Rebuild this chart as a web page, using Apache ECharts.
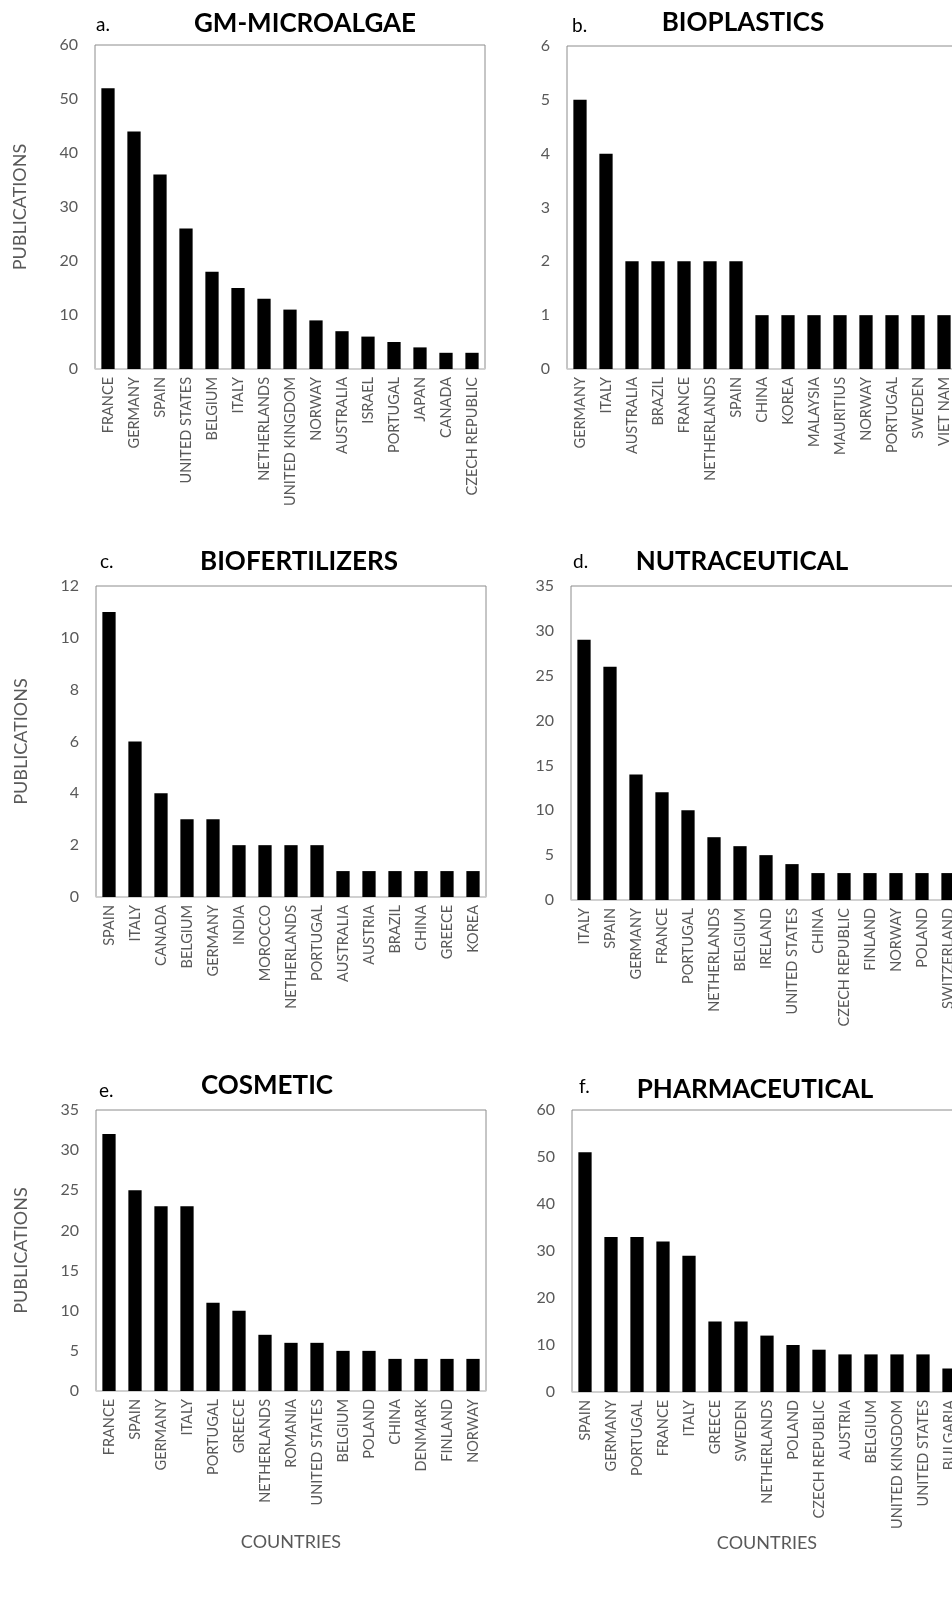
<!DOCTYPE html>
<html>
<head>
<meta charset="utf-8">
<script src="https://cdn.jsdelivr.net/npm/echarts@6/dist/echarts.min.js"></script>
<style>
html,body{margin:0;padding:0;background:#fff;overflow:hidden;}
#c{width:990px;height:1614px;}
</style>
</head>
<body>
<div id="c"></div>
<script>
// ---- Data ----
const catsA = ['FRANCE','GERMANY','SPAIN','UNITED STATES','BELGIUM','ITALY','NETHERLANDS','UNITED KINGDOM','NORWAY','AUSTRALIA','ISRAEL','PORTUGAL','JAPAN','CANADA','CZECH REPUBLIC'];
const valsA = [52,44,36,26,18,15,13,11,9,7,6,5,4,3,3];

const catsB = ['GERMANY','ITALY','AUSTRALIA','BRAZIL','FRANCE','NETHERLANDS','SPAIN','CHINA','KOREA','MALAYSIA','MAURITIUS','NORWAY','PORTUGAL','SWEDEN','VIET NAM'];
const valsB = [5,4,2,2,2,2,2,1,1,1,1,1,1,1,1];

const catsC = ['SPAIN','ITALY','CANADA','BELGIUM','GERMANY','INDIA','MOROCCO','NETHERLANDS','PORTUGAL','AUSTRALIA','AUSTRIA','BRAZIL','CHINA','GREECE','KOREA'];
const valsC = [11,6,4,3,3,2,2,2,2,1,1,1,1,1,1];

const catsD = ['ITALY','SPAIN','GERMANY','FRANCE','PORTUGAL','NETHERLANDS','BELGIUM','IRELAND','UNITED STATES','CHINA','CZECH REPUBLIC','FINLAND','NORWAY','POLAND','SWITZERLAND'];
const valsD = [29,26,14,12,10,7,6,5,4,3,3,3,3,3,3];

const catsE = ['FRANCE','SPAIN','GERMANY','ITALY','PORTUGAL','GREECE','NETHERLANDS','ROMANIA','UNITED STATES','BELGIUM','POLAND','CHINA','DENMARK','FINLAND','NORWAY'];
const valsE = [32,25,23,23,11,10,7,6,6,5,5,4,4,4,4];

const catsF = ['SPAIN','GERMANY','PORTUGAL','FRANCE','ITALY','GREECE','SWEDEN','NETHERLANDS','POLAND','CZECH REPUBLIC','AUSTRIA','BELGIUM','UNITED KINGDOM','UNITED STATES','BULGARIA'];
const valsF = [51,33,33,32,29,15,15,12,10,9,8,8,8,8,5];

const letters = ['a.','b.','c.','d.','e.','f.'];
const titles = ['GM-MICROALGAE','BIOPLASTICS','BIOFERTILIZERS','NUTRACEUTICAL','COSMETIC','PHARMACEUTICAL'];
const yMax = [60,6,12,35,35,60];
const yStep = [10,1,2,5,5,10];
const yName = 'PUBLICATIONS';
const xName = 'COUNTRIES';

// ---- Layout ----
const FONT = 'Lato, "Open Sans", sans-serif';
const grids = [
  {left:95, top:45, width:390, height:324},
  {left:567, top:46, width:390, height:323},
  {left:96, top:586, width:390, height:311},
  {left:571, top:586, width:390, height:314},
  {left:96, top:1110, width:390, height:281},
  {left:572, top:1110, width:390, height:282}
];
const cats = [catsA,catsB,catsC,catsD,catsE,catsF];
const vals = [valsA,valsB,valsC,valsD,valsE,valsF];

const letterPos = [[96,25],[572,26],[100,562],[573,562],[99,1091],[579,1087]];
const titlePos = [[305,24],[743,23],[299,562],[742,562],[267,1086],[755,1090]];

const option = {
  backgroundColor:'#fff',
  animation:false,
  grid: grids.map(g => Object.assign({show:true, borderColor:'#8c8c8c', borderWidth:1, backgroundColor:'transparent', containLabel:false}, g)),
  xAxis: cats.map((c,i)=>({
    type:'category', gridIndex:i, data:c,
    axisLine:{show:true, lineStyle:{color:'#d4d4d4', width:1.5}},
    axisTick:{show:false},
    axisLabel:{interval:0, rotate:90, margin:8, color:'#595959', fontSize:14.5, fontFamily:FONT},
    name: i>=4 ? xName : '',
    nameLocation:'middle', nameGap:142,
    nameTextStyle:{color:'#595959', fontSize:18, fontFamily:FONT}
  })),
  yAxis: yMax.map((m,i)=>({
    type:'value', gridIndex:i, min:0, max:m, interval:yStep[i],
    axisLine:{show:false}, axisTick:{show:false}, splitLine:{show:false},
    axisLabel:{margin:17, color:'#595959', fontSize:16, fontFamily:FONT},
    name: i%2===0 ? yName : '',
    nameLocation:'middle', nameGap:66,
    nameTextStyle:{color:'#595959', fontSize:18, fontFamily:FONT}
  })),
  series: vals.map((v,i)=>({
    type:'bar', xAxisIndex:i, yAxisIndex:i, data:v,
    barWidth:'51%', itemStyle:{color:'#000'}, silent:true
  })),
  graphic: [].concat(
    letters.map((t,i)=>({type:'text', x:letterPos[i][0], y:letterPos[i][1],
      style:{text:t, fill:'#000', font:'19px '+FONT, textAlign:'left', textVerticalAlign:'middle'}})),
    titles.map((t,i)=>({type:'text', x:titlePos[i][0], y:titlePos[i][1],
      style:{text:t, fill:'#000', font:'bold 26px '+FONT, textAlign:'center', textVerticalAlign:'middle'}}))
  )
};
const chart = echarts.init(document.getElementById('c'), null, {renderer:'canvas'});
chart.setOption(option);
</script>
</body>
</html>
